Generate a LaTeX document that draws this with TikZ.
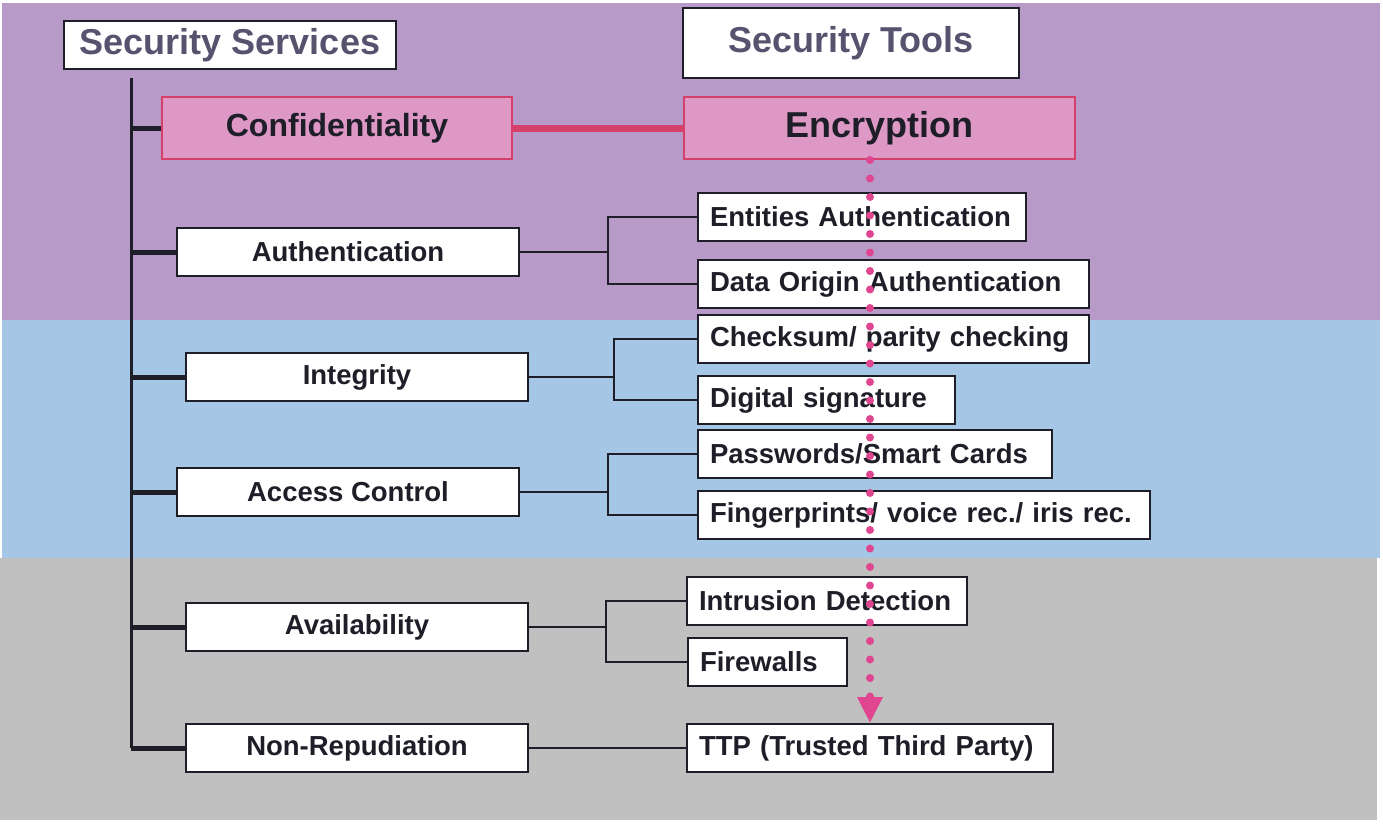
\documentclass[tikz,border=0pt]{standalone}
\usepackage{fontspec}
\setmainfont{Liberation Sans}
\usetikzlibrary{arrows.meta}
\definecolor{bgpurple}{HTML}{B89AC8}
\definecolor{bgblue}{HTML}{A5C6E4}
\definecolor{bggray}{HTML}{C0C0C0}
\definecolor{pinkfill}{HTML}{DD98C6}
\definecolor{pinkline}{HTML}{D4406A}
\definecolor{pinkdot}{HTML}{E04590}
\definecolor{headtext}{HTML}{57536E}
\definecolor{boxtext}{HTML}{1E1E28}
\tikzset{
  box/.style={draw=boxtext, line width=2pt, fill=white, text=boxtext, font=\fontsize{27.5}{32}\selectfont\bfseries, inner sep=0pt, minimum height=48pt},
  tool/.style={box, anchor=west, inner xsep=12pt, align=left},
  head/.style={box, text=headtext, font=\fontsize{36}{42}\selectfont\bfseries},
  hot/.style={box, draw=pinkline, fill=pinkfill, minimum height=62pt},
  trunk/.style={line width=3pt, boxtext},
  branch/.style={line width=5pt, boxtext},
  link/.style={line width=2pt, boxtext},
}
\begin{document}
\begin{tikzpicture}[x=1pt, y=-1pt, >=stealth]
\useasboundingbox[fill=white] (0,0) rectangle (1383,836);
\fill[bgpurple] (2,3) rectangle (1380,320);
\fill[bgblue] (2,320) rectangle (1380,558);
\fill[bggray] (0,558) rectangle (1377,820);

\node[head, minimum width=332pt] (svc) at (230,45) {Security Services};
\node[head, minimum width=336pt, minimum height=70pt] (tools) at (851,43) {Security Tools};

\node[hot, minimum width=350pt, font=\fontsize{32}{38}\selectfont\bfseries] (conf) at (337,128) {Confidentiality};
\node[hot, minimum width=391pt, font=\fontsize{36}{42}\selectfont\bfseries] (enc) at (879.5,128) {Encryption};
\node[box, minimum width=342pt] (auth) at (348,252) {Authentication};
\node[box, minimum width=342pt] (integ) at (357,377) {Integrity};
\node[box, minimum width=342pt] (acc) at (348,492) {Access Control};
\node[box, minimum width=342pt] (avail) at (357,627) {Availability};
\node[box, minimum width=342pt] (nonrep) at (357,748) {Non-Repudiation};

\node[tool, text width=304pt] (ent) at (697,217) {Entities Authentication};
\node[tool, text width=367pt] (dor) at (697,284) {Data Origin Authentication};
\node[tool, text width=367pt] (chk) at (697,339) {Checksum/ parity checking};
\node[tool, text width=233pt] (dsig) at (697,400) {Digital signature};
\node[tool, text width=330pt] (pwd) at (697,454) {Passwords/Smart Cards};
\node[tool, text width=428pt] (fgp) at (697,515) {Fingerprints/ voice rec./ iris rec.};
\node[tool, text width=256pt] (ids) at (686,601) {Intrusion Detection};
\node[tool, text width=135pt] (fw) at (687,662) {Firewalls};
\node[tool, text width=342pt] (ttp) at (686,748) {TTP (Trusted Third Party)};

% services tree
\coordinate (top) at (131,78);
\coordinate (bot) at (131,748);
\draw[trunk] (top) -- (bot);
\draw[branch] (bot) -- (nonrep.west);
\foreach \s in {conf, auth, integ, acc, avail}
  \draw[branch] (\s.west -| top) -- (\s.west);

% services to tools
\draw[pinkline, line width=7pt] (conf.east) -- (enc.west);
\draw[link] (auth.east) -- ++(88,0) |- (ent.west);
\draw[link] (auth.east) -- ++(88,0) |- (dor.west);
\draw[link] (integ.east) -- ++(85,0) |- (chk.west);
\draw[link] (integ.east) -- ++(85,0) |- (dsig.west);
\draw[link] (acc.east) -- ++(88,0) |- (pwd.west);
\draw[link] (acc.east) -- ++(88,0) |- (fgp.west);
\draw[link] (avail.east) -- ++(77,0) |- (ids.west);
\draw[link] (avail.east) -- ++(77,0) |- (fw.west);
\draw[link] (nonrep.east) -- (ttp.west);

\draw[pinkdot, line width=8pt, line cap=round, dash pattern=on 0pt off 18.5pt, -{Triangle[width=24pt,length=26pt]}] (enc.south -| ttp.north) -- (ttp.north);
\end{tikzpicture}
\end{document}
